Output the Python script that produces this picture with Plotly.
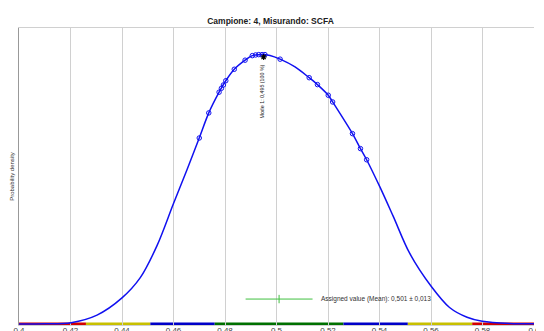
import plotly.graph_objects as go

# ---- data ----
curve_x = [0.400, 0.410, 0.4202, 0.4303, 0.4400, 0.4471, 0.4536, 0.4600, 0.4652, 0.4700,
           0.4737, 0.4777, 0.4803, 0.4836, 0.4878, 0.4906, 0.4944, 0.4975, 0.5014, 0.5072,
           0.5127, 0.5159, 0.5201, 0.5218, 0.5295, 0.5326, 0.5350, 0.5401, 0.5453, 0.5517,
           0.5602, 0.5672, 0.5740, 0.5799, 0.5905, 0.600]
curve_y = [0.0, 0.01, 0.08, 0.53, 1.55, 2.75, 4.65, 7.15, 9.14, 11.04,
           12.53, 13.76, 14.44, 15.12, 15.66, 15.93, 16.00, 15.94, 15.72, 15.26,
           14.62, 14.21, 13.58, 13.18, 11.30, 10.41, 9.75, 8.15, 6.40, 4.20,
           2.21, 0.98, 0.40, 0.16, 0.03, 0.01]

results_x = [0.4700, 0.4737, 0.4777, 0.4786, 0.4794, 0.4803, 0.4836, 0.4878, 0.4906, 0.4919,
             0.4931, 0.4944, 0.4955, 0.5014, 0.5127, 0.5159, 0.5201, 0.5218, 0.5295, 0.5326,
             0.5350]
results_y = [11.04, 12.53, 13.76, 13.99, 14.19, 14.44, 15.12, 15.66, 15.93, 15.97,
             15.99, 15.99, 15.99, 15.72, 14.62, 14.21, 13.58, 13.18, 11.30, 10.41,
             9.75]

mode_x = 0.495
mode_y = 15.85
mode_label = "Mode 1: 0,495 (100 %)"

assigned_mean = 0.501
assigned_unc = 0.013
assigned_level = 1.48
assigned_label = "Assigned value (Mean): 0,501 ± 0,013"

band_edges = [0.400, 0.426, 0.451, 0.476, 0.526, 0.551, 0.576, 0.600]
band_colors = ["#d40000", "#c8c000", "#0000c8", "#007000", "#0000c8", "#c8c000", "#d40000"]

title_text = "Campione: 4, Misurando: SCFA"
y_title = "Probability density"

# page body adds an 8px offset; margins compensate for it
OFF = 8
W, H = 544, 331

# ---- figure ----
fig = go.Figure()

fig.add_trace(go.Scatter(
    x=curve_x, y=curve_y, mode="lines",
    line=dict(color="#1010f0", width=1.5, shape="spline", smoothing=0.9),
    hoverinfo="skip", showlegend=False))

fig.add_trace(go.Scatter(
    x=results_x, y=results_y, mode="markers",
    marker=dict(symbol="circle-open", size=4.5, color="#1010f0", line=dict(width=1.0)),
    showlegend=False))

fig.add_trace(go.Scatter(
    x=[mode_x], y=[mode_y], mode="markers",
    marker=dict(symbol="asterisk-open", size=5, color="black", line=dict(width=1.2, color="black")),
    showlegend=False))

fig.add_trace(go.Scatter(
    x=[assigned_mean], y=[assigned_level], mode="markers",
    marker=dict(symbol="line-ns-open", size=6, color="#40c040", line=dict(width=1, color="#40c040")),
    error_x=dict(type="constant", value=assigned_unc, color="#40c040", thickness=1, width=0),
    showlegend=False))

for i, c in enumerate(band_colors):
    fig.add_shape(type="line", xref="x", yref="y",
                  x0=band_edges[i], x1=band_edges[i + 1], y0=0, y1=0,
                  line=dict(color=c, width=3), layer="below")

fig.add_annotation(x=mode_x, y=15.5, xref="x", yref="y", text=mode_label,
                   textangle=-90, showarrow=False, xanchor="center", yanchor="top",
                   xshift=-2,
                   font=dict(family="Liberation Sans", size=5.3, color="#202020"))

fig.add_annotation(x=assigned_mean + assigned_unc + 0.0026, y=assigned_level, xref="x", yref="y",
                   text=assigned_label, showarrow=False, xanchor="left", yanchor="middle",
                   font=dict(family="Liberation Sans", size=6.5, color="#303030"))

fig.update_layout(
    width=W, height=H,
    margin=dict(l=18.5 - OFF, r=W - (534.5 - OFF), t=28.3 - OFF, b=H - (325 - OFF), autoexpand=False),
    paper_bgcolor="white", plot_bgcolor="white",
    separators=", ",
    title=dict(text="<b>" + title_text + "</b>", x=(270.5 - OFF) / W, xanchor="center",
               y=1 - (21.5 - OFF) / H, yanchor="middle", automargin=False,
               font=dict(family="Liberation Sans", size=8.5, color="#202020")),
    xaxis=dict(range=[0.4, 0.6], dtick=0.02, tick0=0.4, showgrid=True, gridcolor="#d0d0d0",
               gridwidth=1, zeroline=False, showline=True, linecolor="#d0d0d0", mirror=True,
               automargin=False, ticklabelstandoff=-3,
               ticks="", tickfont=dict(family="Liberation Sans", size=8, color="#404040")),
    yaxis=dict(range=[-0.06, 17.57], showgrid=False, zeroline=False, showticklabels=False,
               showline=True, linecolor="#999999", ticks="", automargin=False,
               title=dict(text=y_title, standoff=2,
                          font=dict(family="Liberation Sans Narrow, Liberation Sans", size=6, color="#303030"))),
)

fig.write_html("out.html")
